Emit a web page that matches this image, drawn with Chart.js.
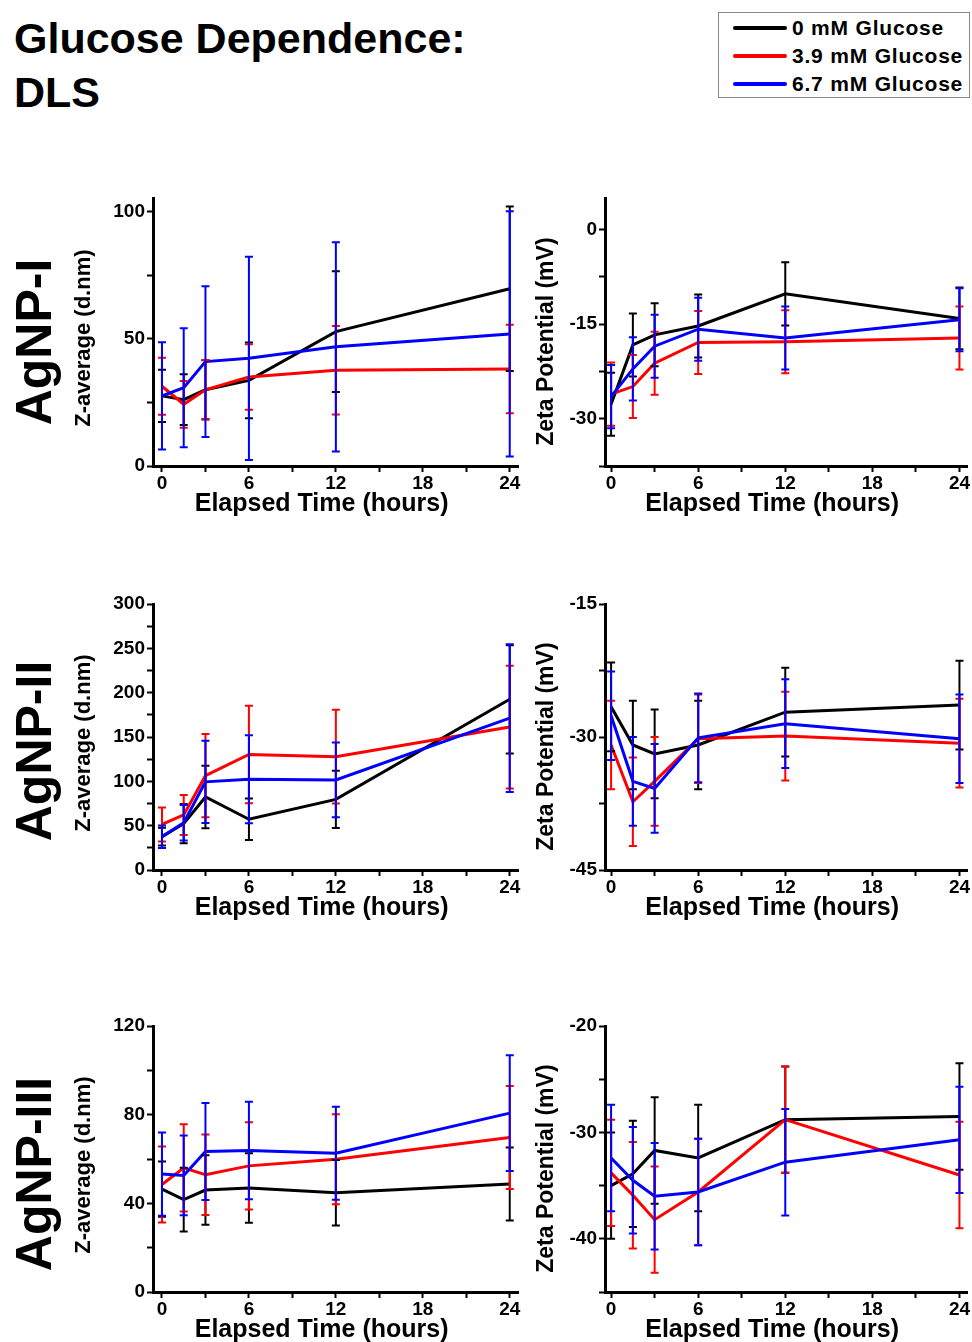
<!DOCTYPE html>
<html>
<head>
<meta charset="utf-8">
<title>Glucose Dependence: DLS</title>
<script src="https://cdn.jsdelivr.net/npm/chart.js@4.4.1/dist/chart.umd.min.js"></script>
<style>
  body { margin: 0; background: #fff; font-family: "Liberation Sans", Arial, sans-serif; }
  #page { position: relative; width: 972px; height: 1342px; overflow: hidden; }
  #title { position: absolute; left: 14px; top: 11px; font-size: 43px; font-weight: bold; line-height: 54px; }
  #legend { position: absolute; left: 718px; top: 12px; width: 252px; height: 86px; border: 1px solid #888; box-sizing: border-box; }
  .key { position: absolute; left: 14px; height: 28px; display: flex; align-items: center; font-size: 21px; font-weight: bold; letter-spacing: 0.8px; white-space: nowrap; }
  .key span { display: inline-block; width: 54px; height: 4px; border-radius: 2px; margin-right: 5px; }
  .row-label { position: absolute; transform: translate(-50%, -50%) rotate(-90deg); font-size: 50px; font-weight: bold; line-height: 50px; white-space: nowrap; }
  canvas { position: absolute; }
</style>
</head>
<body>
<div id="page">
  <div id="title">Glucose Dependence:<br>DLS</div>
  <div id="legend"></div>
  <div class="row-label" style="left:34px; top:342px">AgNP-I</div>
  <div class="row-label" style="left:34px; top:751px">AgNP-II</div>
  <div class="row-label" style="left:34px; top:1174px">AgNP-III</div>
</div>
<script>
// sampling times (hours)
const hours = [0, 1.5, 3, 6, 12, 24];
const seriesNames = ['0 mM Glucose', '3.9 mM Glucose', '6.7 mM Glucose'];
const seriesColors = ['#000000', '#ff0000', '#0000ff'];

// each table: [0 mM, 3.9 mM, 6.7 mM]
// AgNP-I
const zavgI_mean = [
  [27.6, 26.1, 30.0, 33.7, 52.9, 69.8],
  [31.4, 24.3, 30.0, 35.0, 37.7, 38.2],
  [27.6, 30.8, 41.1, 42.4, 46.9, 52.0]
];
const zavgI_err = [
  [10.3, 10.0, 11.6, 14.9, 23.8, 32.4],
  [11.2, 9.2, 11.7, 12.9, 17.4, 17.4],
  [21.1, 23.4, 29.7, 40.0, 41.2, 48.3]
];
const zetaI_mean = [
  [-27.7, -18.3, -16.7, -15.3, -10.2, -14.1],
  [-26.1, -24.9, -21.2, -17.9, -17.8, -17.2],
  [-26.5, -22.1, -18.5, -15.8, -17.2, -14.3]
];
const zetaI_err = [
  [5.0, 5.0, 5.0, 5.0, 5.0, 4.9],
  [5.0, 5.0, 5.0, 5.0, 5.0, 5.0],
  [5.0, 5.0, 5.0, 5.0, 5.0, 5.0]
];

// AgNP-II
const zavgII_mean = [
  [37.6, 52.3, 82.4, 57.2, 79.6, 192.5],
  [51.4, 62.1, 106.4, 130.3, 127.8, 161.2],
  [37.5, 53.4, 99.4, 102.4, 101.6, 171.3]
];
const zavgII_err = [
  [10.0, 22.0, 35.3, 23.3, 32.2, 61.0],
  [19.2, 22.6, 47.0, 55.0, 52.9, 69.2],
  [12.8, 20.0, 46.5, 49.7, 42.1, 83.4]
];
const zetaII_mean = [
  [-26.6, -30.9, -31.9, -30.9, -27.2, -26.4],
  [-30.9, -37.3, -35.0, -30.2, -29.9, -30.7],
  [-27.6, -35.0, -35.8, -30.1, -28.5, -30.2]
];
const zetaII_err = [
  [5.0, 5.0, 5.0, 5.0, 5.0, 5.0],
  [5.0, 5.0, 5.0, 5.0, 5.0, 5.0],
  [5.0, 5.0, 5.0, 5.0, 5.0, 5.0]
];

// AgNP-III
const zavgIII_mean = [
  [46.4, 41.7, 46.0, 46.9, 44.8, 48.7],
  [48.5, 56.0, 52.9, 56.9, 59.9, 69.7],
  [53.2, 52.6, 63.4, 63.8, 62.6, 80.7]
];
const zavgIII_err = [
  [12.5, 14.4, 15.7, 15.7, 14.8, 16.5],
  [17.1, 19.7, 18.2, 19.7, 20.3, 23.2],
  [18.8, 18.0, 21.9, 22.0, 21.0, 26.1]
];
const zetaIII_mean = [
  [-35.0, -33.9, -31.7, -32.4, -28.8, -28.5],
  [-33.8, -35.9, -38.2, -35.6, -28.8, -34.0],
  [-32.4, -34.5, -36.0, -35.6, -32.8, -30.7]
];
const zetaIII_err = [
  [5.0, 5.0, 5.0, 5.0, 5.0, 5.0],
  [5.0, 5.0, 5.0, 5.0, 5.0, 5.0],
  [5.0, 5.0, 5.0, 5.0, 5.0, 5.0]
];

Chart.defaults.font.family = '"Liberation Sans", Arial, sans-serif';
Chart.defaults.color = '#000';

const page = document.getElementById('page');

// shared legend box
const legend = document.getElementById('legend');
seriesNames.forEach((name, i) => {
  const key = document.createElement('div');
  key.className = 'key';
  key.style.top = (1 + i * 28) + 'px';
  key.innerHTML = `<span style="background:${seriesColors[i]}"></span>${name}`;
  legend.appendChild(key);
});

// vertical error bars with caps
const errorBars = {
  id: 'errorBars',
  afterDatasetsDraw(chart) {
    const ctx = chart.ctx;
    const xs = chart.scales.x;
    const ys = chart.scales.y;
    chart.data.datasets.forEach(ds => {
      ctx.save();
      ctx.strokeStyle = ds.borderColor;
      ctx.lineWidth = 2;
      ds.data.forEach((p, i) => {
        const e = ds.errors[i];
        const px = xs.getPixelForValue(p.x);
        const top = ys.getPixelForValue(p.y + e);
        const bot = ys.getPixelForValue(p.y - e);
        ctx.beginPath();
        ctx.moveTo(px, top);
        ctx.lineTo(px, bot);
        ctx.moveTo(px - 4, top);
        ctx.lineTo(px + 4, top);
        ctx.moveTo(px - 4, bot);
        ctx.lineTo(px + 4, bot);
        ctx.stroke();
      });
      ctx.restore();
    });
  }
};

// the original titles sit a little off-centre; trailing spaces nudge them
const NB = '\u00a0';
const zavgTitle = 'Z-average (d.nm)' + NB.repeat(2);
const zetaTitle = 'Zeta Potential (mV)' + NB.repeat(3);
const timeTitle = 'Elapsed Time (hours)' + NB.repeat(4);

const panels = [
  { left: true,  top: 184,  height: 336, title: zavgTitle, means: zavgI_mean,   errs: zavgI_err,   y: { min: 0,     max: 105.5, step: 25,  major: 50 } },
  { left: false, top: 184,  height: 336, title: zetaTitle, means: zetaI_mean,   errs: zetaI_err,   y: { min: -37.5, max: 5,     step: 7.5, major: 15 } },
  { left: true,  top: 590,  height: 334, title: zavgTitle, means: zavgII_mean,  errs: zavgII_err,  y: { min: 0,     max: 300,   step: 25,  major: 50 } },
  { left: false, top: 590,  height: 334, title: zetaTitle, means: zetaII_mean,  errs: zetaII_err,  y: { min: -45,   max: -15,   step: 7.5, major: 15 } },
  { left: true,  top: 1012, height: 334, title: zavgTitle, means: zavgIII_mean, errs: zavgIII_err, y: { min: 0,     max: 120,   step: 20,  major: 40 } },
  { left: false, top: 1012, height: 334, title: zetaTitle, means: zetaIII_mean, errs: zetaIII_err, y: { min: -45,   max: -20,   step: 5,   major: 10 } }
];

panels.forEach(p => {
  const cv = document.createElement('canvas');
  cv.width = p.left ? 470 : 442;
  cv.height = p.height;
  cv.style.left = (p.left ? 60 : 530) + 'px';
  cv.style.top = p.top + 'px';
  page.appendChild(cv);

  const datasets = p.means.map((vals, i) => ({
    label: seriesNames[i],
    data: vals.map((v, j) => ({ x: hours[j], y: v })),
    errors: p.errs[i],
    borderColor: seriesColors[i],
    borderWidth: 3,
    pointRadius: 0,
    tension: 0,
    fill: false,
    order: 2 - i
  }));

  new Chart(cv, {
    type: 'line',
    data: { datasets },
    options: {
      responsive: false,
      animation: false,
      devicePixelRatio: 1,
      layout: { padding: { top: 14, right: p.left ? 12 : 5, left: 0, bottom: 0 } },
      plugins: { legend: { display: false }, tooltip: { enabled: false } },
      scales: {
        x: {
          type: 'linear',
          min: p.left ? -0.62 : -0.42,
          max: p.left ? 24.57 : 24.52,
          afterFit: s => { s.height = 54; },
          border: { display: true, color: '#000', width: 3 },
          grid: { drawOnChartArea: false, drawTicks: true, tickLength: 6, tickColor: '#000', tickWidth: 2 },
          ticks: {
            stepSize: 3,
            includeBounds: false,
            autoSkip: false,
            maxRotation: 0,
            padding: 0,
            color: '#000',
            font: { size: 19, weight: 'bold' },
            callback: v => (v % 6 === 0 ? String(v) : '')
          },
          title: { display: true, text: timeTitle, color: '#000', font: { size: 25, weight: 'bold' }, padding: { top: 0, bottom: 1 } }
        },
        y: {
          min: p.y.min,
          max: p.y.max,
          afterFit: s => { s.width = p.left ? 93 : 75; },
          border: { display: true, color: '#000', width: 3 },
          grid: { drawOnChartArea: false, drawTicks: true, tickLength: 6, tickColor: '#000', tickWidth: 2 },
          ticks: {
            stepSize: p.y.step,
            includeBounds: false,
            autoSkip: false,
            padding: 2,
            color: '#000',
            font: { size: 19, weight: 'bold' },
            callback: v => (Math.abs(v % p.y.major) < 1e-9 ? String(v) : '')
          },
          title: {
            display: true,
            text: p.title,
            color: '#000',
            font: { size: p.left ? 22 : 23, weight: 'bold' },
            padding: { top: p.left ? 11 : 3, bottom: 0 }
          }
        }
      }
    },
    plugins: [errorBars]
  });
});
</script>
</body>
</html>
